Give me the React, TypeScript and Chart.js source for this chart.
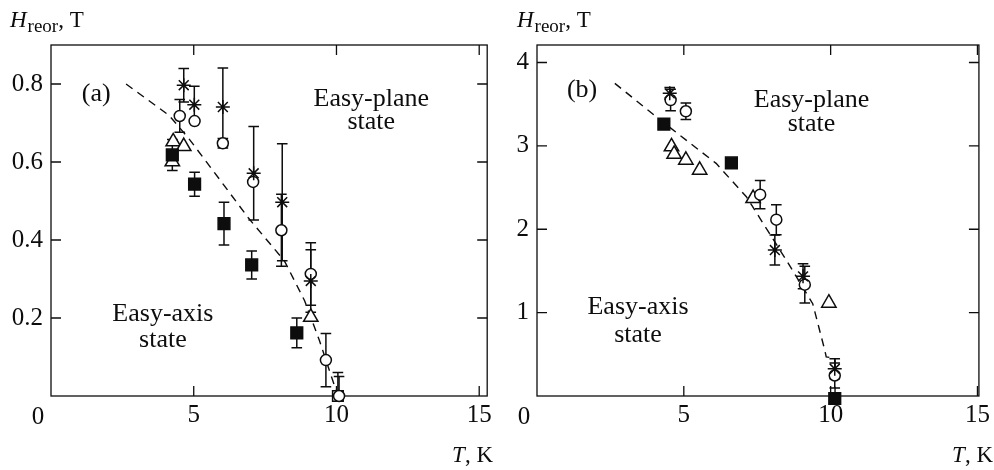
import React, { useEffect, useRef } from 'react';
import { Chart, registerables } from 'chart.js';

Chart.register(...registerables);

const FONT = '"Liberation Serif", "Times New Roman", Times, serif';
const INK = '#0d0d0d';

// ---------- Panel (a) data ----------
const aXTicks = [0, 5, 10, 15];
const aYTicks = [0, 0.2, 0.4, 0.6, 0.8];

const aStarT = [4.65, 5.02, 6.02, 7.1, 8.1, 9.1];
const aStarH = [0.797, 0.747, 0.741, 0.571, 0.497, 0.295];
const aStarErr = [0.043, 0.047, 0.1, 0.12, 0.15, 0.08];

const aCircT = [4.51, 5.03, 6.02, 7.08, 8.07, 9.1, 9.63, 10.09];
const aCircH = [0.718, 0.705, 0.648, 0.549, 0.425, 0.313, 0.092, 0.0];
const aCircErr = [0.042, 0, 0.012, 0, 0.092, 0.08, 0.068, 0.05];

const aTriT = [4.28, 4.65, 4.25, 9.1];
const aTriH = [0.652, 0.64, 0.601, 0.202];

const aSqT = [4.25, 5.03, 6.06, 7.03, 8.61];
const aSqH = [0.618, 0.543, 0.442, 0.336, 0.162];
const aSqErr = [0.04, 0.031, 0.055, 0.036, 0.038];

const aOpenSqT = [10.05];
const aOpenSqH = [0.0];
const aOpenSqErr = [0.06];

const aCurveT = [2.63, 4.13, 4.83, 5.9, 6.91, 8.18, 8.88, 9.4, 10.05];
const aCurveH = [0.8, 0.72, 0.66, 0.556, 0.457, 0.346, 0.245, 0.143, 0.0];

// ---------- Panel (b) data ----------
const bXTicks = [0, 5, 10, 15];
const bYTicks = [0, 1, 2, 3, 4];

const bStarT = [4.52, 8.1, 9.06, 10.14];
const bStarH = [3.63, 1.75, 1.435, 0.326];
const bStarErr = [0.07, 0.18, 0.15, 0.12];

const bCircT = [4.55, 5.07, 7.6, 8.15, 9.12, 10.14];
const bCircH = [3.55, 3.415, 2.415, 2.115, 1.335, 0.246];
const bCircErr = [0.13, 0.1, 0.17, 0.18, 0.22, 0.15];

const bTriT = [4.58, 4.67, 5.07, 5.54, 7.36, 9.94];
const bTriH = [2.99, 2.9, 2.83, 2.71, 2.37, 1.115];

const bSqT = [4.32, 6.62, 10.14];
const bSqH = [3.26, 2.795, -0.03];

const bCurveT = [2.65, 4.2, 6.1, 7.13, 8.49, 9.39, 9.8, 9.85, 10.15, 10.15];
const bCurveH = [3.75, 3.31, 2.79, 2.39, 1.63, 1.107, 0.55, 0.47, 0.45, 0.0];

// ---------- helpers ----------
const pts = (xs: number[], ys: number[]) => xs.map((x, i) => ({ x, y: ys[i] }));

type Label = { text: string; x: number; y: number; align?: CanvasTextAlign };

type Panel = {
  left: number;
  xMax: number;
  yMax: number;
  xTicks: number[];
  yTicks: number[];
  decimals: number;
  yAxisWidth: number;
  padRight: number;
  titleX: number;
  tkRight: number;
  labels: Label[];
  datasets: any[];
};

const LW = 1.5;

function markerSets(
  star: [number[], number[], number[]],
  circ: [number[], number[], number[]],
  tri: [number[], number[]],
  sq: [number[], number[], number[] | null],
  openSq: [number[], number[], number[]] | null,
  curve: [number[], number[]]
) {
  const base = { borderColor: INK, borderWidth: LW, clip: false as any };
  const sets: any[] = [
    { ...base, label: 'stars', data: pts(star[0], star[1]), errors: star[2], pointStyle: 'star', pointRadius: 7, backgroundColor: INK },
    { ...base, label: 'circles', data: pts(circ[0], circ[1]), errors: circ[2], pointStyle: 'circle', pointRadius: 5.5, backgroundColor: '#ffffff' },
    { ...base, label: 'squares', data: pts(sq[0], sq[1]), errors: sq[2], pointStyle: 'rect', pointRadius: 8.3, backgroundColor: INK },
    { ...base, label: 'triangles', data: pts(tri[0], tri[1]), pointStyle: 'triangle', pointRadius: 8.3, backgroundColor: '#ffffff' },
  ];
  if (openSq) {
    sets.push({ ...base, label: 'open squares', data: pts(openSq[0], openSq[1]), errors: openSq[2], pointStyle: 'rect', pointRadius: 7.5, backgroundColor: '#ffffff' });
  }
  sets.push({
    label: 'boundary',
    data: pts(curve[0], curve[1]),
    showLine: true,
    borderColor: INK,
    borderWidth: 1.4,
    borderDash: [8, 6],
    pointRadius: 0,
    fill: false,
    clip: false,
  });
  return sets;
}

const panelA: Panel = {
  left: 0,
  xMax: 15.28,
  yMax: 0.9,
  xTicks: aXTicks,
  yTicks: aYTicks,
  decimals: 1,
  yAxisWidth: 51,
  padRight: 6,
  titleX: 10,
  tkRight: 493,
  labels: [
    { text: '(a)', x: 1.08, y: 0.775, align: 'left' },
    { text: 'Easy-plane', x: 11.22, y: 0.762 },
    { text: 'state', x: 11.22, y: 0.703 },
    { text: 'Easy-axis', x: 3.92, y: 0.211 },
    { text: 'state', x: 3.92, y: 0.143 },
  ],
  datasets: markerSets(
    [aStarT, aStarH, aStarErr],
    [aCircT, aCircH, aCircErr],
    [aTriT, aTriH],
    [aSqT, aSqH, aSqErr],
    [aOpenSqT, aOpenSqH, aOpenSqErr],
    [aCurveT, aCurveH]
  ),
};

const panelB: Panel = {
  left: 497,
  xMax: 15.05,
  yMax: 4.21,
  xTicks: bXTicks,
  yTicks: bYTicks,
  decimals: 0,
  yAxisWidth: 40,
  padRight: 14,
  titleX: 20,
  tkRight: 496,
  labels: [
    { text: '(b)', x: 1.02, y: 3.67, align: 'left' },
    { text: 'Easy-plane', x: 9.35, y: 3.55 },
    { text: 'state', x: 9.35, y: 3.26 },
    { text: 'Easy-axis', x: 3.44, y: 1.06 },
    { text: 'state', x: 3.44, y: 0.73 },
  ],
  datasets: markerSets(
    [bStarT, bStarH, bStarErr],
    [bCircT, bCircH, bCircErr],
    [bTriT, bTriH],
    [bSqT, bSqH, null],
    null,
    [bCurveT, bCurveH]
  ),
};

function makePlugin(p: Panel) {
  return {
    id: 'frameAndBars',
    beforeDatasetsDraw(chart: any) {
      const ctx: CanvasRenderingContext2D = chart.ctx;
      const xs = chart.scales.x;
      const ys = chart.scales.y;
      const a = chart.chartArea;
      ctx.save();
      // annotations
      ctx.fillStyle = INK;
      ctx.font = `26px ${FONT}`;
      ctx.textBaseline = 'middle';
      p.labels.forEach((l) => {
        ctx.textAlign = l.align || 'center';
        ctx.fillText(l.text, xs.getPixelForValue(l.x), ys.getPixelForValue(l.y));
      });
      // frame
      ctx.strokeStyle = INK;
      ctx.lineWidth = 1.3;
      ctx.strokeRect(a.left, a.top, a.right - a.left, a.bottom - a.top);
      // inward ticks on all four sides
      const TL = 10;
      ctx.beginPath();
      p.xTicks.forEach((v) => {
        const x = xs.getPixelForValue(v);
        if (x <= a.left + 1 || x > a.right) return;
        ctx.moveTo(x, a.bottom);
        ctx.lineTo(x, a.bottom - TL);
        ctx.moveTo(x, a.top);
        ctx.lineTo(x, a.top + TL);
      });
      p.yTicks.forEach((v) => {
        const y = ys.getPixelForValue(v);
        if (y >= a.bottom - 1 || y < a.top) return;
        ctx.moveTo(a.left, y);
        ctx.lineTo(a.left + TL, y);
        ctx.moveTo(a.right, y);
        ctx.lineTo(a.right - TL, y);
      });
      ctx.stroke();
      // error bars
      ctx.lineWidth = LW;
      const CAP = 5.3;
      chart.data.datasets.forEach((ds: any) => {
        const errs: number[] | undefined = ds.errors;
        if (!errs) return;
        ds.data.forEach((pt: any, j: number) => {
          const e = errs[j];
          if (!e) return;
          const x = xs.getPixelForValue(pt.x);
          const yTop = ys.getPixelForValue(pt.y + e);
          const yBot = ys.getPixelForValue(Math.max(0, pt.y - e));
          ctx.beginPath();
          ctx.moveTo(x, yTop);
          ctx.lineTo(x, yBot);
          ctx.moveTo(x - CAP, yTop);
          ctx.lineTo(x + CAP, yTop);
          if (pt.y - e > 0) {
            ctx.moveTo(x - CAP, yBot);
            ctx.lineTo(x + CAP, yBot);
          }
          ctx.stroke();
        });
      });
      // axis titles
      ctx.textAlign = 'left';
      ctx.textBaseline = 'alphabetic';
      ctx.font = `italic 23px ${FONT}`;
      ctx.fillText('H', p.titleX, 27);
      let x = p.titleX + ctx.measureText('H').width + 1;
      ctx.font = `19px ${FONT}`;
      ctx.fillText('reor', x, 32);
      x += ctx.measureText('reor').width;
      ctx.font = `23px ${FONT}`;
      ctx.fillText(', T', x, 27);

      ctx.textAlign = 'right';
      ctx.font = `23px ${FONT}`;
      const kw = ctx.measureText(', K').width;
      ctx.fillText(', K', p.tkRight, 462);
      ctx.font = `italic 23px ${FONT}`;
      ctx.fillText('T', p.tkRight - kw, 462);

      // origin label
      ctx.textAlign = 'center';
      ctx.font = `25px ${FONT}`;
      ctx.fillText('0', a.left - 13, 424);
      ctx.restore();
    },
  };
}

function PanelChart({ p }: { p: Panel }) {
  const ref = useRef<HTMLCanvasElement | null>(null);
  useEffect(() => {
    if (!ref.current) return;
    const chart = new Chart(ref.current, {
      type: 'scatter',
      data: { datasets: p.datasets },
      options: {
        responsive: false,
        animation: false,
        devicePixelRatio: 1,
        layout: { padding: { top: 45, right: p.padRight, bottom: 0, left: 0 } },
        plugins: { legend: { display: false }, tooltip: { enabled: false } },
        scales: {
          x: {
            type: 'linear',
            min: 0,
            max: p.xMax,
            grid: { display: false, drawTicks: false },
            border: { display: false },
            afterBuildTicks: (s: any) => {
              s.ticks = p.xTicks.map((v) => ({ value: v }));
            },
            afterFit: (s: any) => {
              s.height = 74;
            },
            ticks: {
              padding: 4,
              color: INK,
              font: { family: FONT, size: 25 },
              maxRotation: 0,
              autoSkip: false,
              callback: (v: any) => (Number(v) === 0 ? '' : String(v)),
            },
          },
          y: {
            type: 'linear',
            min: 0,
            max: p.yMax,
            grid: { display: false, drawTicks: false },
            border: { display: false },
            afterBuildTicks: (s: any) => {
              s.ticks = p.yTicks.map((v) => ({ value: v }));
            },
            afterFit: (s: any) => {
              s.width = p.yAxisWidth;
            },
            ticks: {
              padding: 8,
              color: INK,
              font: { family: FONT, size: 25 },
              autoSkip: false,
              callback: (v: any) => (Number(v) === 0 ? '' : Number(v).toFixed(p.decimals)),
            },
          },
        },
      } as any,
      plugins: [makePlugin(p)],
    });
    return () => chart.destroy();
  }, [p]);
  return (
    <canvas
      ref={ref}
      width={497}
      height={470}
      style={{ position: 'absolute', left: p.left, top: 0, width: 497, height: 470 }}
    />
  );
}

export default function App() {
  return (
    <div style={{ position: 'absolute', left: 0, top: 0, width: 994, height: 470, background: '#ffffff' }}>
      <PanelChart p={panelA} />
      <PanelChart p={panelB} />
    </div>
  );
}
